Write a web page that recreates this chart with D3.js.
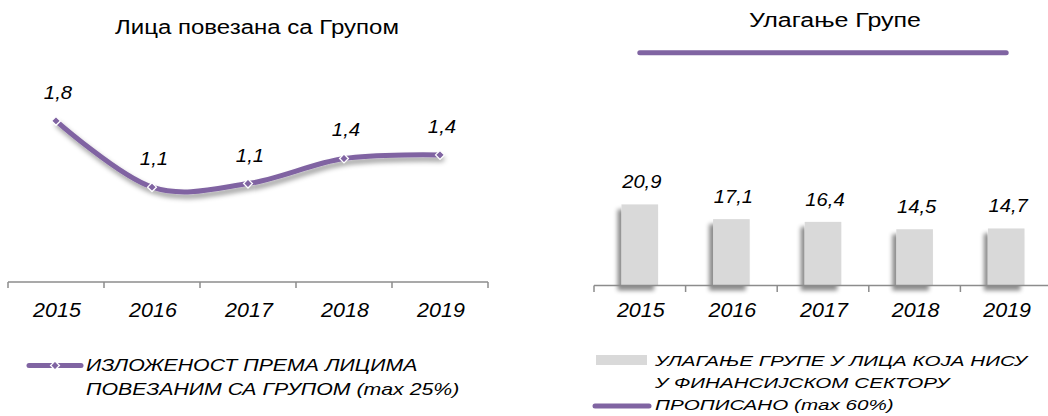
<!DOCTYPE html>
<html>
<head>
<meta charset="utf-8">
<script src="https://cdn.jsdelivr.net/npm/d3@7"></script>
<style>
  body { margin: 0; background: #fff; }
  svg { display: block; font-family: "Liberation Sans", Arial, sans-serif; }
</style>
</head>
<body>
<svg width="1048" height="416"></svg>
<script>

var years = ['2015', '2016', '2017', '2018', '2019'];
var exposure = [1.8, 1.06, 1.1, 1.38, 1.42];       // Лица повезана са Групом
var investment = [20.9, 17.1, 16.4, 14.5, 14.7];   // Улагање Групе
var limit = [60, 60, 60, 60, 60];                  // ПРОПИСАНО (max 60%)

var purple = '#8064A2', grey = '#D9D9D9';
var fmt = function (v) { return d3.format('.1f')(v).replace('.', ','); };

// the source font is wider than Liberation Sans, so stretch text a bit
var stretch = function (sel, k) {
   sel.each(function () {
      var w = this.getComputedTextLength();
      d3.select(this).attr('textLength', w * k).attr('lengthAdjust', 'spacingAndGlyphs');
   });
};

var svg = d3.select('svg');

var defs = svg.append('defs');
defs.append('filter').attr('id', 'lineShadow')
   .attr('x', '-10%').attr('y', '-30%').attr('width', '130%').attr('height', '180%')
   .append('feDropShadow')
   .attr('dx', 2).attr('dy', 4).attr('stdDeviation', 2.5)
   .attr('flood-color', '#000').attr('flood-opacity', 0.4);
defs.append('filter').attr('id', 'barShadow')
   .attr('x', '-40%').attr('y', '-10%').attr('width', '160%').attr('height', '130%')
   .append('feDropShadow')
   .attr('dx', -4).attr('dy', 5).attr('stdDeviation', 2)
   .attr('flood-color', '#000').attr('flood-opacity', 0.45);

// ---------- left chart ----------
var x1 = d3.scaleBand().domain(years).range([8, 488]);
var y1 = d3.scaleLinear().domain([0, 2]).range([282, 103]);
var cx1 = function (d, i) { return x1(years[i]) + x1.bandwidth() / 2; };

var left = svg.append('g');

left.append('text')
   .attr('x', 257).attr('y', 34)
   .attr('text-anchor', 'middle')
   .style('font-size', '20px')
   .text('Лица повезана са Групом')
   .call(stretch, 1.2);

left.append('line')
   .attr('x1', 8).attr('x2', 488).attr('y1', 282).attr('y2', 282)
   .attr('stroke', '#8c8c8c').attr('stroke-width', 1.5);
left.selectAll('.tick1')
   .data(years.concat(['end']))
   .enter().append('line')
   .attr('x1', function (d, i) { return 8 + i * x1.step(); })
   .attr('x2', function (d, i) { return 8 + i * x1.step(); })
   .attr('y1', 282).attr('y2', 288)
   .attr('stroke', '#8c8c8c').attr('stroke-width', 1.5);

left.selectAll('.year1')
   .data(years)
   .enter().append('text')
   .attr('x', function (d) { return x1(d) + x1.bandwidth() / 2 + 1; })
   .attr('y', 317)
   .attr('text-anchor', 'middle')
   .style('font-size', '19.5px').style('font-style', 'italic')
   .text(function (d) { return d; })
   .call(stretch, 1.1);

var line1 = d3.line()
   .x(cx1)
   .y(function (d) { return y1(d); })
   .curve(d3.curveCardinal.tension(0));

left.append('path')
   .datum(exposure)
   .attr('d', line1)
   .attr('fill', 'none')
   .attr('stroke', purple)
   .attr('stroke-width', 5)
   .attr('stroke-linecap', 'round')
   .attr('filter', 'url(#lineShadow)');

var diamond = d3.symbol().type(d3.symbolDiamond2).size(50);
left.selectAll('.mark1')
   .data(exposure)
   .enter().append('path')
   .attr('d', diamond)
   .attr('transform', function (d, i) { return 'translate(' + cx1(d, i) + ',' + y1(d) + ')'; })
   .attr('fill', purple).attr('stroke', '#fff').attr('stroke-width', 1.3);

left.selectAll('.val1')
   .data(exposure)
   .enter().append('text')
   .attr('x', function (d, i) { return cx1(d, i) + 2; })
   .attr('y', function (d) { return y1(d) - 22; })
   .attr('text-anchor', 'middle')
   .style('font-size', '18.5px').style('font-style', 'italic')
   .text(fmt)
   .call(stretch, 1.1);

// legend left
var lg1 = left.append('g');
lg1.append('line')
   .attr('x1', 29).attr('x2', 81).attr('y1', 365.5).attr('y2', 365.5)
   .attr('stroke', purple).attr('stroke-width', 5).attr('stroke-linecap', 'round');
lg1.append('path')
   .attr('d', diamond)
   .attr('transform', 'translate(55,365.5)')
   .attr('fill', purple).attr('stroke', '#fff').attr('stroke-width', 1.3);
lg1.selectAll('.lt1')
   .data(['ИЗЛОЖЕНОСТ ПРЕМА ЛИЦИМА', 'ПОВЕЗАНИМ СА ГРУПОМ (max 25%)'])
   .enter().append('text')
   .attr('x', 86)
   .attr('y', function (d, i) { return 371 + i * 24; })
   .style('font-size', '16.5px').style('font-style', 'italic')
   .text(function (d) { return d; })
   .call(stretch, 1.29);

// ---------- right chart ----------
var x2 = d3.scaleBand().domain(years).range([594, 1052]).paddingInner(0.6).paddingOuter(0.3);
var y2 = d3.scaleLinear().domain([0, 70]).range([285.5, 13.9]);
var gap2 = (x2.step() - x2.bandwidth()) / 2;

var right = svg.append('g');

right.append('text')
   .attr('x', 835).attr('y', 27)
   .attr('text-anchor', 'middle')
   .style('font-size', '20px')
   .text('Улагање Групе')
   .call(stretch, 1.25);

right.selectAll('.bar')
   .data(investment)
   .enter().append('rect')
   .attr('x', function (d, i) { return x2(years[i]); })
   .attr('width', x2.bandwidth())
   .attr('y', function (d) { return y2(d); })
   .attr('height', function (d) { return y2(0) - y2(d); })
   .attr('fill', grey)
   .attr('filter', 'url(#barShadow)');

right.append('line')
   .attr('x1', 594).attr('x2', 1052).attr('y1', 285.5).attr('y2', 285.5)
   .attr('stroke', '#8c8c8c').attr('stroke-width', 1.5);
right.selectAll('.tick2')
   .data(years)
   .enter().append('line')
   .attr('x1', function (d) { return x2(d) - gap2; })
   .attr('x2', function (d) { return x2(d) - gap2; })
   .attr('y1', 285.5).attr('y2', 292)
   .attr('stroke', '#8c8c8c').attr('stroke-width', 1.5);

right.selectAll('.year2')
   .data(years)
   .enter().append('text')
   .attr('x', function (d) { return x2(d) + x2.bandwidth() / 2 + 1; })
   .attr('y', 317)
   .attr('text-anchor', 'middle')
   .style('font-size', '19.5px').style('font-style', 'italic')
   .text(function (d) { return d; })
   .call(stretch, 1.1);

right.selectAll('.val2')
   .data(investment)
   .enter().append('text')
   .attr('x', function (d, i) { return x2(years[i]) + x2.bandwidth() / 2 + 2; })
   .attr('y', function (d) { return y2(d) - 16; })
   .attr('text-anchor', 'middle')
   .style('font-size', '18px').style('font-style', 'italic')
   .text(fmt)
   .call(stretch, 1.12);

var line2 = d3.line()
   .x(function (d, i) { return x2(years[i]) + x2.bandwidth() / 2; })
   .y(function (d) { return y2(d); });

right.append('path')
   .datum(limit)
   .attr('d', line2)
   .attr('fill', 'none')
   .attr('stroke', purple)
   .attr('stroke-width', 5)
   .attr('stroke-linecap', 'round');

// legend right
var lg2 = right.append('g');
lg2.append('rect')
   .attr('x', 596).attr('y', 355).attr('width', 51).attr('height', 10)
   .attr('fill', grey);
lg2.append('line')
   .attr('x1', 595).attr('x2', 649).attr('y1', 406).attr('y2', 406)
   .attr('stroke', purple).attr('stroke-width', 5).attr('stroke-linecap', 'round');
lg2.selectAll('.lt2')
   .data(['УЛАГАЊЕ ГРУПЕ У ЛИЦА КОЈА НИСУ', 'У ФИНАНСИЈСКОМ СЕКТОРУ', 'ПРОПИСАНО (max 60%)'])
   .enter().append('text')
   .attr('x', 655)
   .attr('y', function (d, i) { return 366 + i * 22; })
   .style('font-size', '15.5px').style('font-style', 'italic')
   .text(function (d) { return d; })
   .call(stretch, 1.33);
</script>
</body>
</html>
